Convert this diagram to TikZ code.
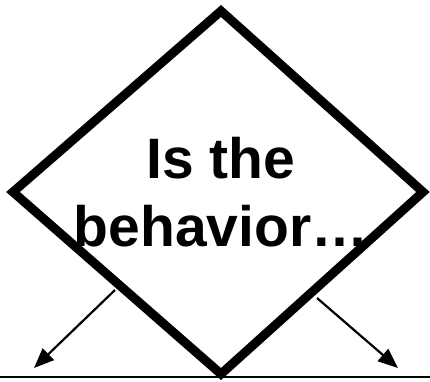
\documentclass[tikz,border=0pt]{standalone}
\usepackage{fontspec}
\setmainfont{Liberation Sans}
\usetikzlibrary{arrows.meta}
\begin{document}
\begin{tikzpicture}[x=1pt,y=-1pt,
  decision/.style={line width=9pt,line join=miter,miter limit=10},
  branch/.style={line width=2.2pt,-{Triangle[length=20pt,width=16pt]}},
  ground/.style={line width=2.5pt},
  label/.style={font=\fontsize{57}{68}\selectfont\bfseries,align=center,inner sep=0pt}]
\useasboundingbox (0,0) rectangle (430,381);
\coordinate (top) at (221,11);
\coordinate (left) at (13,192);
\coordinate (right) at (423,192);
\coordinate (bottom) at (221,374);
\draw[decision] (top) -- (right) -- (bottom) -- (left) -- cycle;
\node[label] (q) at (221,192) {Is the\\behavior\ldots};
\coordinate (ls) at (115,290);
\coordinate (lt) at (34,368);
\coordinate (rs) at (317,298);
\coordinate (rt) at (398,368);
\draw[branch] (ls) -- (lt);
\draw[branch] (rs) -- (rt);
\coordinate (g1) at (0,377);
\coordinate (g2) at (430,377);
\draw[ground] (g1) -- (g2);
\end{tikzpicture}
\end{document}
